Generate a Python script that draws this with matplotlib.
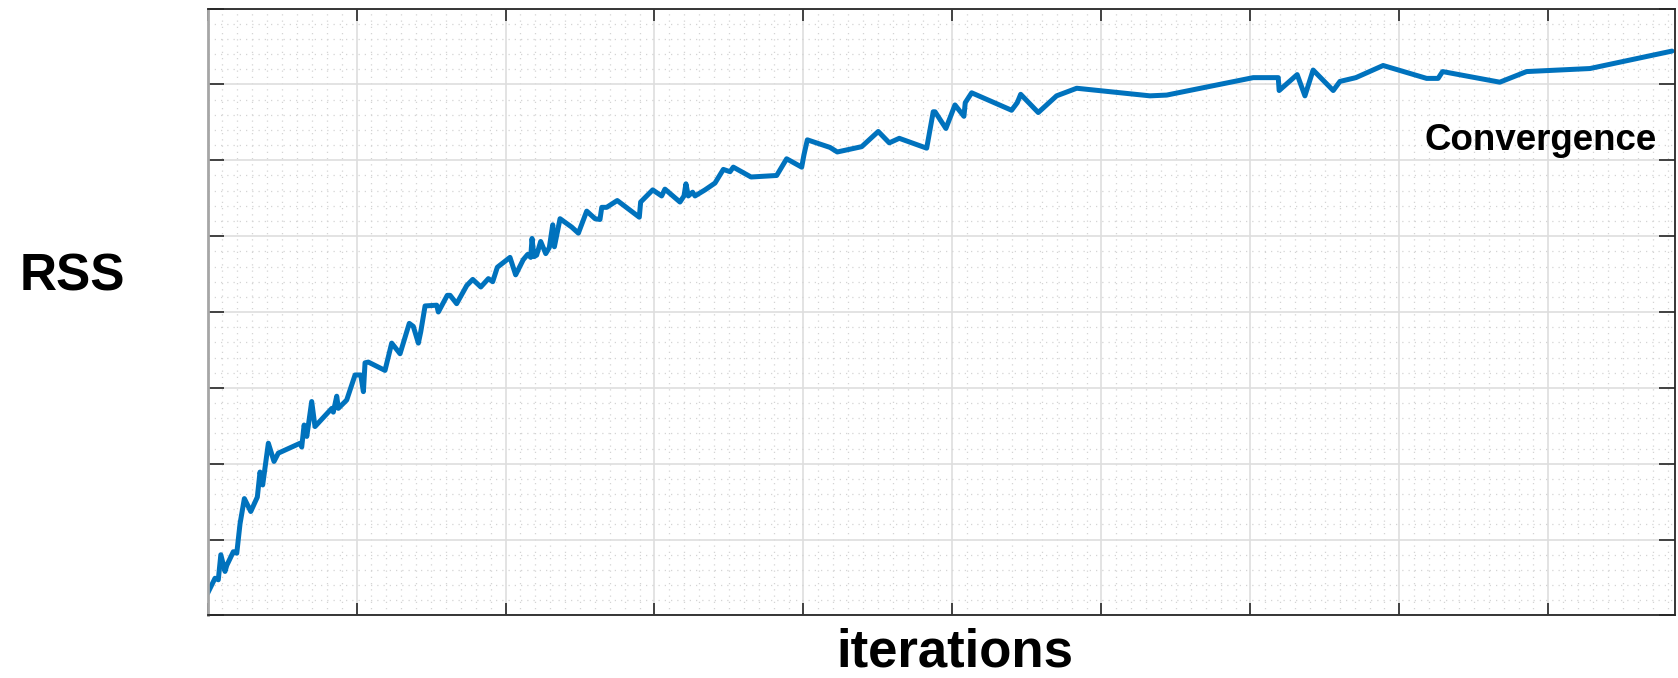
import matplotlib
matplotlib.use("Agg")
import matplotlib.pyplot as plt
from matplotlib.ticker import MultipleLocator, NullFormatter

# RSS per iteration (tick labels are hidden in the original, so units are relative)
iterations = [
    0.0, 0.50, 0.72, 0.89, 1.17, 1.29, 1.73, 1.96, 2.18, 2.47,
    2.90, 3.34, 3.52, 3.70, 4.08, 4.46, 4.75, 4.98, 6.21, 6.32,
    6.48, 6.66, 6.99, 7.21, 8.34, 8.44, 8.67, 8.78, 9.34, 9.90,
    10.28, 10.46, 10.57, 10.79, 11.91, 12.36, 12.92, 13.54, 13.81, 14.15,
    14.31, 14.60, 15.38, 15.49, 16.09, 16.28, 16.72, 17.40, 17.80, 18.34,
    18.85, 19.14, 19.45, 20.30, 20.68, 21.19, 21.49, 21.69, 21.78, 21.91,
    22.09, 22.36, 22.70, 22.94, 23.17, 23.28, 23.66, 24.44, 24.89, 25.45,
    26.01, 26.34, 26.46, 26.79, 27.50, 28.98, 29.07, 29.88, 30.48, 30.70,
    31.71, 31.98, 32.11, 32.27, 32.56, 32.72, 33.39, 34.06, 34.62, 35.07,
    35.29, 36.48, 38.20, 38.87, 39.88, 40.03, 40.26, 41.78, 42.27, 43.91,
    45.02, 45.76, 46.43, 48.27, 48.71, 48.83, 49.56, 50.17, 50.77, 50.86,
    51.29, 53.97, 54.35, 54.58, 55.76, 56.99, 58.34, 63.26, 64.38, 70.19,
    71.87, 71.93, 73.14, 73.66, 74.21, 75.56, 76.01, 77.08, 78.91, 81.83,
    82.60, 82.90, 86.74, 88.54, 92.79, 98.30,
]
rss = [
    0.29, 0.49, 0.47, 0.80, 0.58, 0.66, 0.84, 0.82, 1.21, 1.54,
    1.37, 1.56, 1.89, 1.72, 2.27, 2.03, 2.14, 2.16, 2.27, 2.22,
    2.51, 2.36, 2.82, 2.49, 2.73, 2.68, 2.89, 2.73, 2.84, 3.17,
    3.17, 2.95, 3.33, 3.34, 3.23, 3.59, 3.45, 3.85, 3.81, 3.59,
    3.74, 4.08, 4.09, 4.00, 4.22, 4.22, 4.11, 4.35, 4.43, 4.33,
    4.44, 4.40, 4.59, 4.72, 4.49, 4.69, 4.76, 4.72, 4.97, 4.73,
    4.75, 4.93, 4.77, 4.85, 5.15, 4.86, 5.23, 5.12, 5.04, 5.33,
    5.23, 5.22, 5.38, 5.38, 5.47, 5.25, 5.45, 5.61, 5.53, 5.62,
    5.45, 5.53, 5.69, 5.53, 5.58, 5.53, 5.61, 5.70, 5.88, 5.85,
    5.91, 5.78, 5.80, 6.02, 5.91, 6.07, 6.27, 6.17, 6.11, 6.18,
    6.38, 6.23, 6.29, 6.16, 6.64, 6.64, 6.42, 6.73, 6.58, 6.76,
    6.89, 6.66, 6.76, 6.87, 6.63, 6.85, 6.95, 6.85, 6.86, 7.09,
    7.09, 6.92, 7.13, 6.85, 7.19, 6.92, 7.04, 7.09, 7.25, 7.08,
    7.08, 7.17, 7.03, 7.17, 7.21, 7.44,
]

X_MAX = 98.5
Y_MAX = 8.0
LINE_COLOR = "#0072BD"
AXIS_COLOR = "#262626"

plt.rcParams["font.family"] = ["Liberation Sans", "DejaVu Sans"]

fig = plt.figure(figsize=(16.78, 6.78), dpi=100)
ax = fig.add_axes([0.1237, 0.0923, 0.8745, 0.8950])

ax.plot(iterations, rss, color=LINE_COLOR, linewidth=3.6,
        solid_joinstyle="round", solid_capstyle="round")

ax.set_xlim(0, X_MAX)
ax.set_ylim(0, Y_MAX)

# MATLAB-ish grid: solid major lines, dotted minor lines
ax.xaxis.set_major_locator(MultipleLocator(10))
ax.xaxis.set_minor_locator(MultipleLocator(1))
ax.yaxis.set_major_locator(MultipleLocator(1))
ax.yaxis.set_minor_locator(MultipleLocator(0.2))
ax.xaxis.set_major_formatter(NullFormatter())
ax.yaxis.set_major_formatter(NullFormatter())
ax.grid(which="major", color="#dedede", linewidth=1.2, linestyle="-")
ax.grid(which="minor", color="#d4d4d4", linewidth=0.9, linestyle=(0, (1, 4)))
ax.set_axisbelow(True)

ax.tick_params(axis="x", which="major", direction="in", length=8.6, width=1.2,
               color=AXIS_COLOR, top=True, bottom=True)
ax.tick_params(axis="y", which="major", direction="in", length=11.5, width=1.2,
               color=AXIS_COLOR, left=True, right=True)
ax.tick_params(which="minor", length=0)

for side in ("top", "bottom", "right"):
    ax.spines[side].set_color(AXIS_COLOR)
    ax.spines[side].set_linewidth(1.3)
ax.spines["left"].set_color("#a6a6a6")
ax.spines["left"].set_linewidth(2.0)

ax.set_ylabel("RSS", rotation=0, fontsize=37, fontweight="bold",
              ha="center", va="center")
ax.yaxis.set_label_coords(-0.0923, 0.558)
ax.set_xlabel("iterations", fontsize=38, fontweight="bold", va="baseline")
ax.xaxis.set_label_coords(0.509, -0.085)

ax.text(81.7, 6.13, "Convergence", fontsize=26.5, fontweight="bold",
        ha="left", va="baseline")

fig.savefig("out.png", dpi=100)
